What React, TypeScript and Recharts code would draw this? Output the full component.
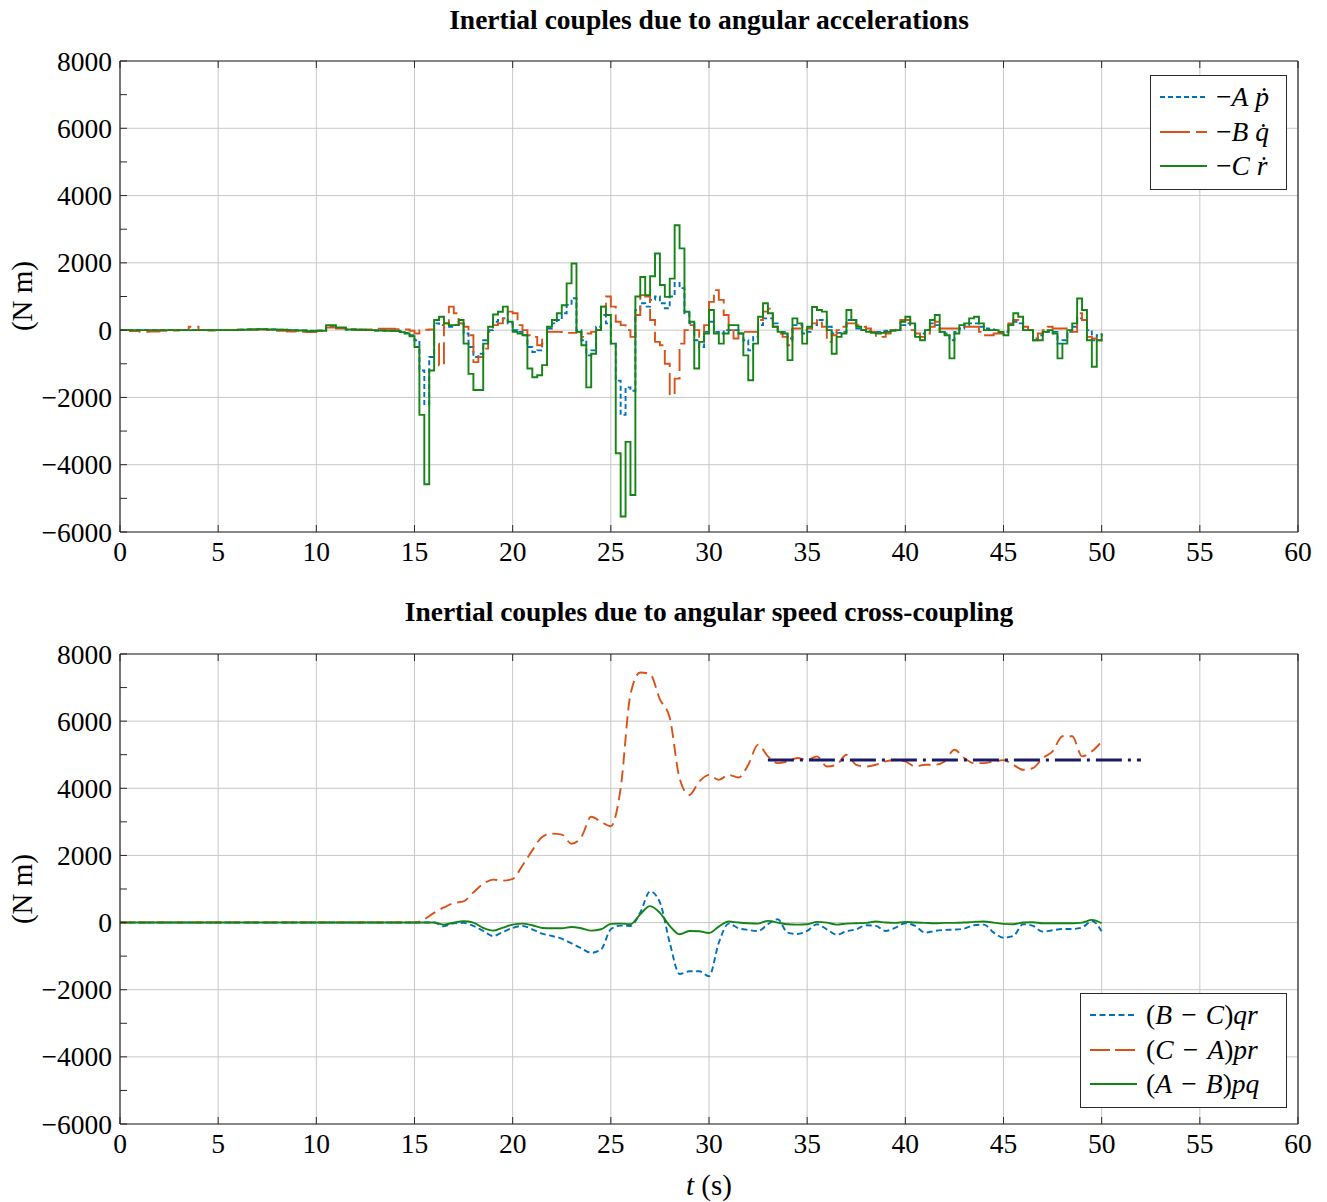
import React from 'react'
import { LineChart, Line, XAxis, YAxis, CartesianGrid } from 'recharts'

// top plot: stepped samples, coarse before 14 s then every 0.25 s
const topT = [
  0, 0.5, 1, 1.5, 2, 2.5, 3, 3.5, 4, 4.5, 5, 5.5, 6, 6.5, 7, 7.5, 8, 8.5, 9, 9.5, 10, 10.5, 11, 11.5, 12, 12.5, 13, 13.5,
  14, 14.25, 14.5, 14.75, 15, 15.25, 15.5, 15.75, 16, 16.25, 16.5, 16.75, 17, 17.25, 17.5, 17.75,
  18, 18.25, 18.5, 18.75, 19, 19.25, 19.5, 19.75, 20, 20.25, 20.5, 20.75, 21, 21.25, 21.5, 21.75,
  22, 22.25, 22.5, 22.75, 23, 23.25, 23.5, 23.75, 24, 24.25, 24.5, 24.75, 25, 25.25, 25.5, 25.75,
  26, 26.25, 26.5, 26.75, 27, 27.25, 27.5, 27.75, 28, 28.25, 28.5, 28.75, 29, 29.25, 29.5, 29.75,
  30, 30.25, 30.5, 30.75, 31, 31.25, 31.5, 31.75, 32, 32.25, 32.5, 32.75, 33, 33.25, 33.5, 33.75,
  34, 34.25, 34.5, 34.75, 35, 35.25, 35.5, 35.75, 36, 36.25, 36.5, 36.75, 37, 37.25, 37.5, 37.75,
  38, 38.25, 38.5, 38.75, 39, 39.25, 39.5, 39.75, 40, 40.25, 40.5, 40.75, 41, 41.25, 41.5, 41.75,
  42, 42.25, 42.5, 42.75, 43, 43.25, 43.5, 43.75, 44, 44.25, 44.5, 44.75, 45, 45.25, 45.5, 45.75,
  46, 46.25, 46.5, 46.75, 47, 47.25, 47.5, 47.75, 48, 48.25, 48.5, 48.75, 49, 49.25, 49.5, 49.75, 50,
]

// -A pdot
const topA = [
  0, 0, 0, 0, 0, 0, 0, 0, 0, 0, 0, 0, 10, 20, 25, 20, 10, 0, -10, -20, -20, 100, 60, 20, 10, 0, -10, -20,
  -20, -40, -80, -150, -300, -1200, -2200, -800, 200, 150, 100, 100, 150, 200, -100, -500,
  -800, -700, -300, 0, 250, 300, 350, 200, 0, -50, -150, -500, -650, -600, -400, 50,
  200, 300, 500, 750, 950, 0, -300, -750, -600, 100, 450, 200, -400, -1500, -2520, -1700,
  -1800, 600, 800, 700, 900, 1000, 800, 650, 1000, 1400, 1250, 500, 200, -300, -500, -50,
  250, -50, -100, 0, 0, 0, -100, -300, -600, -200, 150, 350, 350, 200, -50, -50,
  -250, 150, 150, -100, -50, 150, 300, 300, 100, -100, -80, -50, 300, 300, 50, 0,
  -30, -50, -50, -30, -20, 0, 0, 150, 200, 150, -200, -100, 0, 200, 150, -50,
  -100, -300, -50, 50, 150, 200, 200, 100, 50, 30, 0, -50, -50, 150, 250, 200,
  0, 0, -250, -150, -50, -50, -50, -400, -300, -50, 100, 350, 300, 0, -300, -150, -100,
]

// -B qdot
const topB = [
  0, -30, -50, -40, -20, -10, 0, 100, 0, -10, 0, 0, 10, 20, 20, 0, -20, -40, -50, -60, -20, 80, 50, 20, 10, 20, 40, 40,
  30, 30, 20, -20, -100, 0, 10, 20, -400, -1050, 200, 700, 500, 200, 100, -150,
  -950, -800, -550, -50, 150, 200, 350, 550, 500, 150, 0, -150, -200, -450, -250, -50,
  -50, -50, -60, -80, -80, -50, -200, -100, -50, 0, 700, 1000, 700, 250, 150, 0,
  -200, 450, 1040, 1000, 300, -350, -450, -1000, -1930, -1440, -400, 0, 150, 0, -200, 150,
  840, 1190, 900, 450, 0, -250, -50, -50, -50, -50, 300, 550, 640, 100, -100, -200,
  -450, 50, 50, 0, 50, 200, 300, 100, -350, -150, 0, 100, 200, 200, 150, 100,
  50, -50, -200, -200, -100, 0, 100, 300, 300, 0, -100, -200, -100, 100, 250, 50,
  50, 50, 50, 100, 100, 100, 100, -50, -150, -150, -100, -100, -100, 200, 300, 250,
  100, 0, -300, -100, 0, 100, 50, 50, 50, 50, -50, 500, 300, -200, -250, -300, -350,
]

// -C rdot
const topC = [
  0, 0, 0, 0, 0, 0, 0, 0, 0, 0, 0, 0, 10, 20, 30, 20, 10, 0, -10, -30, -20, 150, 80, 20, 10, 0, -10, -20,
  -30, -60, -100, -180, -500, -2520, -4580, -1200, 300, 400, 200, 150, 150, 300, -400, -1300,
  -1780, -1780, -400, 100, 465, 545, 700, 250, -50, -100, -150, -1140, -1400, -1340, -1040, 100,
  300, 500, 740, 1390, 1980, -50, -450, -1700, -700, 0, 700, 450, -400, -3660, -5540, -3320,
  -4900, 1000, 1580, 1040, 1600, 2280, 1340, 990, 1530, 3120, 2430, 545, 250, -1140, -350, -100,
  600, -100, -400, -100, 150, 150, -100, -750, -1490, -400, 400, 800, 500, 100, -50, -100,
  -890, 350, 200, -400, 100, 690, 600, 550, 0, -700, -200, -100, 600, 300, 100, 0,
  -50, -80, -100, -80, -50, -20, 0, 250, 400, 200, -200, -300, 0, 300, 450, -50,
  -150, -840, -100, 150, 200, 350, 400, 200, 0, 0, 0, -50, -150, 150, 500, 400,
  0, 0, -300, -300, -50, 0, -100, -840, -400, 0, 200, 940, 600, -300, -1090, -300, -100,
]

// bottom plot: smooth samples
const botT = [
  0, 5, 10, 15, 15.5, 16, 16.5, 17, 17.5, 18, 18.5, 19, 19.5, 20, 20.5, 21, 21.5, 22, 22.5, 23, 23.5, 24, 24.5,
  25, 25.5, 26, 26.5, 27, 27.5, 28, 28.5, 29, 29.5, 30, 30.5, 31, 31.5, 32, 32.5, 33, 33.5, 34, 34.5,
  35, 35.5, 36, 36.5, 37, 37.5, 38, 38.5, 39, 39.5, 40, 40.5, 41, 41.5, 42, 42.5, 43, 43.5, 44, 44.5,
  45, 45.5, 46, 46.5, 47, 47.5, 48, 48.5, 49, 49.5, 50,
]

// (B - C) q r
const botQR = [
  0, 0, 0, 0, 0, 0, -110, -20, -10, -100, -250, -400, -280, -160, -100, -200, -330, -400, -480, -620, -770, -900, -800,
  -200, -90, -100, 300, 930, 600, -600, -1530, -1450, -1450, -1600, -600, -30, -170, -220, -250, -50, 100, -300, -340,
  -250, -50, -200, -360, -260, -200, -80, -100, -250, -150, -20, -100, -300, -250, -220, -210, -180, -80, -60, -300,
  -450, -400, -50, -100, -270, -230, -190, -190, -150, 50, -260,
]

// (C - A) p r
const botPR = [
  0, 0, 0, 0, 100, 290, 450, 580, 630, 900, 1150, 1280, 1250, 1300, 1700, 2150, 2550, 2650, 2620, 2350, 2550, 3150, 3000,
  2870, 4000, 6800, 7450, 7400, 6650, 6100, 4300, 3800, 4200, 4400, 4250, 4400, 4320, 4700, 5300, 4950, 4750, 4800, 4900,
  4850, 4950, 4650, 4700, 5000, 4700, 4650, 4700, 4800, 4850, 4800, 4650, 4700, 4700, 4800, 5150, 4900, 4750, 4750, 4800,
  4840, 4700, 4550, 4600, 4900, 5100, 5550, 5550, 4950, 5100, 5390,
]

// (A - B) p q
const botPQ = [
  0, 0, 0, 0, 0, 0, -60, 0, 40, 0, -160, -240, -150, -60, -30, -80, -160, -170, -170, -130, -170, -240, -200,
  -40, -30, -50, 250, 490, 290, -100, -350, -250, -260, -310, -120, 30, 0, -20, -30, 50, 0, -50, -60,
  -50, 20, 0, -60, -30, -20, -10, 30, 0, -10, 20, 0, -10, -20, -10, -10, 0, 20, 30, 0,
  -40, -50, 0, 10, -20, -20, -20, -20, 0, 80, -20,
]

// mean level, dash-dot
const meanT = [33, 52]
const meanV = [4840, 4840]

const xTicks = [0, 5, 10, 15, 20, 25, 30, 35, 40, 45, 50, 55, 60]
const yMajor = [-6000, -4000, -2000, 0, 2000, 4000, 6000, 8000]
const yTicks = [-6000, -5000, -4000, -3000, -2000, -1000, 0, 1000, 2000, 3000, 4000, 5000, 6000, 7000, 8000]

const topData = topT.map((t, i) => ({ t, a: topA[i], b: topB[i], c: topC[i] }))
const botData = botT.map((t, i) => ({ t, qr: botQR[i], pr: botPR[i], pq: botPQ[i] }))
const meanData = meanT.map((t, i) => ({ t, v: meanV[i] }))

const BLUE = '#0072bd'
const ORANGE = '#d95319'
const GREEN = '#148414'
const NAVY = '#1a1a66'
const FRAME = '#2a2a2a'
const FONT = '"Liberation Serif", "DejaVu Serif", serif'
const FS = 27.5

const fmt = (v: number) => (v < 0 ? '\u2212' + Math.abs(v) : String(v))

function LeftTick({ x, y, payload }: any) {
  const v = payload.value
  return (
    <g>
      <line x1={x} x2={x + 7} y1={y} y2={y} stroke={FRAME} strokeWidth={1} />
      {v % 2000 === 0 && (
        <text x={x - 8} y={y} textAnchor="end" dominantBaseline="central" fontSize={FS} fontFamily={FONT} fill="#000">
          {fmt(v)}
        </text>
      )}
    </g>
  )
}

function RightTick({ x, y }: any) {
  return <line x1={x} x2={x - 7} y1={y} y2={y} stroke={FRAME} strokeWidth={1} />
}

function BottomTick({ x, y, payload }: any) {
  return (
    <g>
      <line x1={x} x2={x} y1={y} y2={y - 7} stroke={FRAME} strokeWidth={1} />
      <text x={x} y={y + 19} textAnchor="middle" dominantBaseline="central" fontSize={FS} fontFamily={FONT} fill="#000">
        {payload.value}
      </text>
    </g>
  )
}

function TopTick({ x, y }: any) {
  return <line x1={x} x2={x} y1={y} y2={y + 7} stroke={FRAME} strokeWidth={1} />
}

// width/height of 1 px: recharts skips drawing an axis of size 0
function Axes() {
  const line = { stroke: FRAME, strokeWidth: 1.2 }
  return [
    <XAxis key="xb" dataKey="t" type="number" domain={[0, 60]} ticks={xTicks} height={1} tickSize={0} tickMargin={0}
      tickLine={false} axisLine={line} tick={<BottomTick />} interval={0} allowDataOverflow />,
    <XAxis key="xt" xAxisId="top" orientation="top" dataKey="t" type="number" domain={[0, 60]} ticks={xTicks} height={1}
      tickSize={0} tickMargin={0} tickLine={false} axisLine={line} tick={<TopTick />} interval={0} />,
    <YAxis key="yl" type="number" domain={[-6000, 8000]} ticks={yTicks} width={1} tickSize={0} tickMargin={0}
      tickLine={false} axisLine={line} tick={<LeftTick />} interval={0} allowDataOverflow />,
    <YAxis key="yr" yAxisId="right" orientation="right" type="number" domain={[-6000, 8000]} ticks={yTicks} width={1}
      tickSize={0} tickMargin={0} tickLine={false} axisLine={line} tick={<RightTick />} interval={0} />,
  ]
}

function Legend({ left, top, width, rows }: { left: number; top: number; width: number; rows: any[] }) {
  return (
    <div
      style={{
        position: 'absolute', left, top, width, background: '#fff', border: `1.2px solid ${FRAME}`,
        padding: '4px 0 5px 0', fontFamily: FONT, fontSize: FS,
      }}
    >
      {rows.map((r, i) => (
        <div key={i} style={{ display: 'flex', alignItems: 'center', height: 34.5, whiteSpace: 'nowrap' }}>
          <svg width={56} height={10} style={{ flex: 'none', marginLeft: 9 }}>
            <line x1={0} x2={47} y1={5} y2={5} stroke={r.color} strokeWidth={2} strokeDasharray={r.dash} />
          </svg>
          <span>{r.label}</span>
        </div>
      ))}
    </div>
  )
}

const titleStyle: React.CSSProperties = {
  position: 'absolute', left: 709, transform: 'translate(-50%, -50%)', fontFamily: FONT,
  fontWeight: 'bold', fontSize: 27.5, whiteSpace: 'nowrap',
}

const ylabStyle: React.CSSProperties = {
  position: 'absolute', left: 22, transform: 'translate(-50%, -50%) rotate(-90deg)', fontFamily: FONT,
  fontSize: 29, whiteSpace: 'nowrap',
}

const sp = '\u2004'

export default function App() {
  return (
    <div style={{ position: 'absolute', left: 0, top: 0, width: 1327, height: 1202, background: '#fff' }}>
      <div style={{ position: 'absolute', left: 0, top: 0 }}>
        <LineChart width={1327} height={580} data={topData} margin={{ top: 60, right: 28, bottom: 47, left: 119 }}>
          <CartesianGrid stroke="#c8c8c8" strokeWidth={1} horizontalValues={yMajor} verticalValues={xTicks} />
          {Axes()}
          <Line dataKey="a" type="stepAfter" stroke={BLUE} strokeWidth={1.9} strokeDasharray="5 3" dot={false} isAnimationActive={false} />
          <Line dataKey="b" type="stepAfter" stroke={ORANGE} strokeWidth={1.9} strokeDasharray="22 6" dot={false} isAnimationActive={false} />
          <Line dataKey="c" type="stepAfter" stroke={GREEN} strokeWidth={1.9} dot={false} isAnimationActive={false} />
        </LineChart>
      </div>
      <div style={{ position: 'absolute', left: 0, top: 590 }}>
        <LineChart width={1327} height={612} data={botData} margin={{ top: 63, right: 28, bottom: 77, left: 119 }}>
          <CartesianGrid stroke="#c8c8c8" strokeWidth={1} horizontalValues={yMajor} verticalValues={xTicks} />
          {Axes()}
          <Line dataKey="qr" type="monotone" stroke={BLUE} strokeWidth={1.9} strokeDasharray="6 3.5" dot={false} isAnimationActive={false} />
          <Line dataKey="pr" type="monotone" stroke={ORANGE} strokeWidth={1.9} strokeDasharray="12 6" dot={false} isAnimationActive={false} />
          <Line dataKey="pq" type="monotone" stroke={GREEN} strokeWidth={1.9} dot={false} isAnimationActive={false} />
          <Line data={meanData} dataKey="v" type="linear" stroke={NAVY} strokeWidth={3} strokeDasharray="26 6 3 6" dot={false} isAnimationActive={false} />
        </LineChart>
      </div>

      <div style={{ ...titleStyle, top: 20 }}>Inertial couples due to angular accelerations</div>
      <div style={{ ...titleStyle, top: 612 }}>Inertial couples due to angular speed cross-coupling</div>
      <div style={{ ...ylabStyle, top: 296 }}>(N m)</div>
      <div style={{ ...ylabStyle, top: 889 }}>(N m)</div>
      <div style={{ position: 'absolute', left: 709, top: 1185, transform: 'translate(-50%, -50%)', fontFamily: FONT, fontSize: 29, whiteSpace: 'nowrap' }}>
        <i>t</i> (s)
      </div>

      <Legend
        left={1150}
        top={75}
        width={135}
        rows={[
          { color: BLUE, dash: '5 3', label: <>{'\u2212'}<i>A</i> <i>{'\u1E57'}</i></> },
          { color: ORANGE, dash: '30 6', label: <>{'\u2212'}<i>B</i> <i>{'q\u0307'}</i></> },
          { color: GREEN, dash: undefined, label: <>{'\u2212'}<i>C</i> <i>{'\u1E59'}</i></> },
        ]}
      />
      <Legend
        left={1080}
        top={993}
        width={205}
        rows={[
          { color: BLUE, dash: '6 3.5', label: <>(<i>B</i>{sp}{'\u2212'}{sp}<i>C</i>)<i>qr</i></> },
          { color: ORANGE, dash: '20 5', label: <>(<i>C</i>{sp}{'\u2212'}{sp}<i>A</i>)<i>pr</i></> },
          { color: GREEN, dash: undefined, label: <>(<i>A</i>{sp}{'\u2212'}{sp}<i>B</i>)<i>pq</i></> },
        ]}
      />
    </div>
  )
}
